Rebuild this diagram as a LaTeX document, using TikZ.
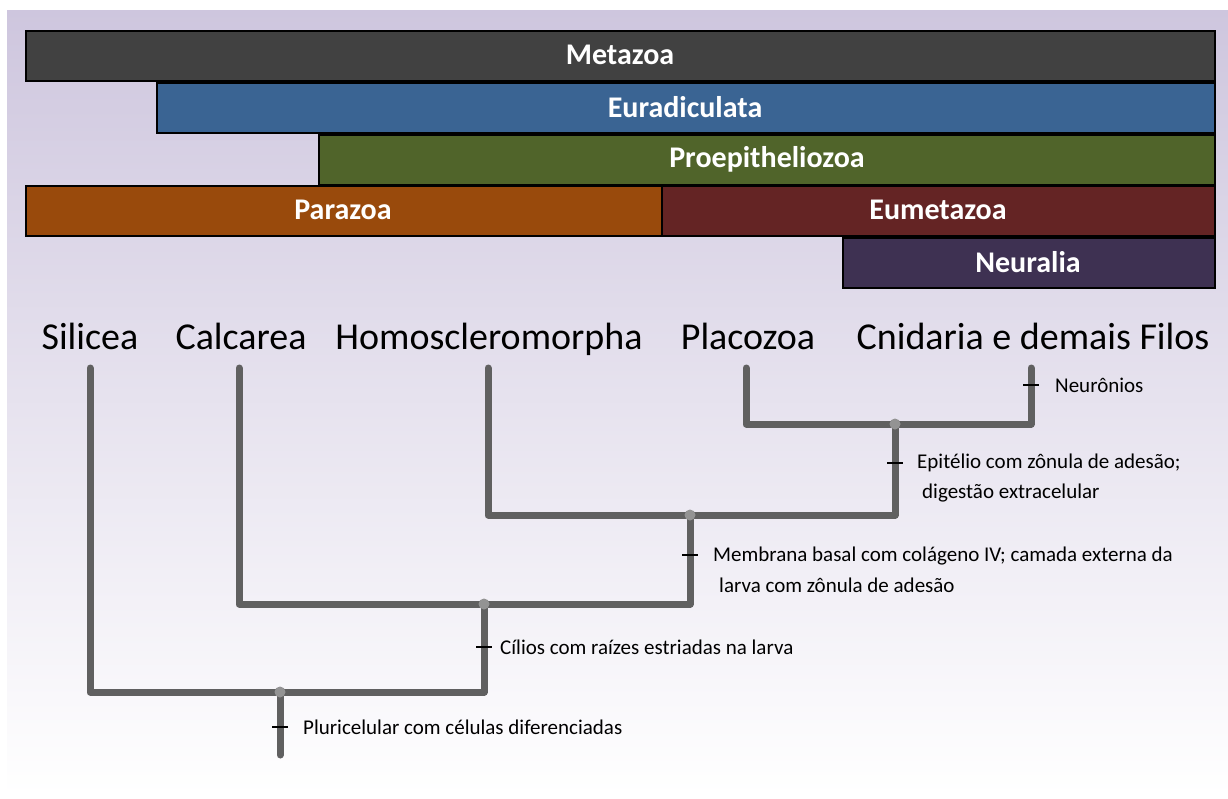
\documentclass[tikz,border=0pt]{standalone}
\usepackage{fontspec}
\setmainfont{Carlito}
\begin{document}
\begin{tikzpicture}[x=1pt,y=-1pt,
  bar/.style={draw=black,line width=1.5pt,minimum height=50pt,inner sep=0pt,anchor=north west},
  barlabel/.style={text=white,font=\fontsize{30}{30}\selectfont\bfseries,inner sep=0pt},
  taxon/.style={font=\fontsize{38}{38}\selectfont,text=black,inner sep=0pt,anchor=base},
  branch/.style={draw=gray!75!black,line width=7pt,line cap=round,line join=round},
  jn/.style={circle,fill=gray!85,inner sep=0pt,minimum size=11pt},
  tick/.style={draw=black,line width=2.5pt},
  note/.style={font=\fontsize{21}{24}\selectfont,anchor=west,inner sep=0pt,align=left},
]
\useasboundingbox (0,0) rectangle (1228,798);
\fill[white] (0,0) rectangle (1228,798);
\shade[top color={rgb,255:red,206;green,198;blue,222},bottom color=white] (7,10) rectangle (1228,795);
% bars
\definecolor{cMeta}{HTML}{414141}
\definecolor{cEura}{HTML}{3A6493}
\definecolor{cProe}{HTML}{50642A}
\definecolor{cPara}{HTML}{994A0C}
\definecolor{cEume}{HTML}{642424}
\definecolor{cNeur}{HTML}{3E3152}
\node[bar,fill=cMeta,minimum width=1189pt] (meta) at (25,30) {};
\node[barlabel] (metaL) at (620,55) {Metazoa};
\node[bar,fill=cEura,minimum width=1058pt] (eura) at (156,82) {};
\node[barlabel] (euraL) at (685,107) {Euradiculata};
\node[bar,fill=cProe,minimum width=896pt] (proe) at (318,134) {};
\node[barlabel] (proeL) at (767,159) {Proepitheliozoa};
\node[bar,fill=cPara,minimum width=636pt] (para) at (25,185) {};
\node[barlabel] (paraL) at (343,210) {Parazoa};
\node[bar,fill=cEume,minimum width=553pt] (eume) at (661,185) {};
\node[barlabel] (eumeL) at (938,210) {Eumetazoa};
\node[bar,fill=cNeur,minimum width=372pt] (neur) at (842,237) {};
\node[barlabel] (neurL) at (1028,262) {Neuralia};
% taxa
\node[taxon] (sil) at (90,349) {Silicea};
\node[taxon] (cal) at (241,349) {Calcarea};
\node[taxon] (hom) at (489,349) {Homoscleromorpha};
\node[taxon] (pla) at (748,349) {Placozoa};
\node[taxon] (cni) at (1033,349) {Cnidaria e demais Filos};
% tip tops
\coordinate (tSil) at (90,368);
\coordinate (tCal) at (239,368);
\coordinate (tHom) at (488,368);
\coordinate (tPla) at (746,368);
\coordinate (tCni) at (1031,368);
\coordinate (root) at (280,755);
% tree
\draw[branch] (tPla) |- (tCni |- 0,424) -- (tCni);
\draw[branch] (tHom) |- (895,515) -- (895,424);
\draw[branch] (tCal) |- (690,604) -- (690,515);
\draw[branch] (tSil) |- (484,692) -- (484,604);
\draw[branch] (280,692) -- (root);
\node[jn] (j1) at (895,424) {};
\node[jn] (j2) at (690,515) {};
\node[jn] (j3) at (484,604) {};
\node[jn] (j4) at (280,692) {};
% ticks and notes
\draw[tick] (1023,385) -- (1039,385);
\node[note] (n1) at (1055,385) {Neurônios};
\draw[tick] (887,463) -- (903,463);
\node[note] (n2) at (917,463) {Epitélio com zônula de adesão;};
\node[note] (n2b) at (922,493) {digestão extracelular};
\draw[tick] (682,555) -- (698,555);
\node[note] (n3) at (713,556) {Membrana basal com colágeno IV; camada externa da};
\node[note] (n3b) at (719,585) {larva com zônula de adesão};
\draw[tick] (476,647) -- (492,647);
\node[note] (n4) at (500,647) {Cílios com raízes estriadas na larva};
\draw[tick] (272,727) -- (288,727);
\node[note] (n5) at (303,727) {Pluricelular com células diferenciadas};
\end{tikzpicture}
\end{document}
